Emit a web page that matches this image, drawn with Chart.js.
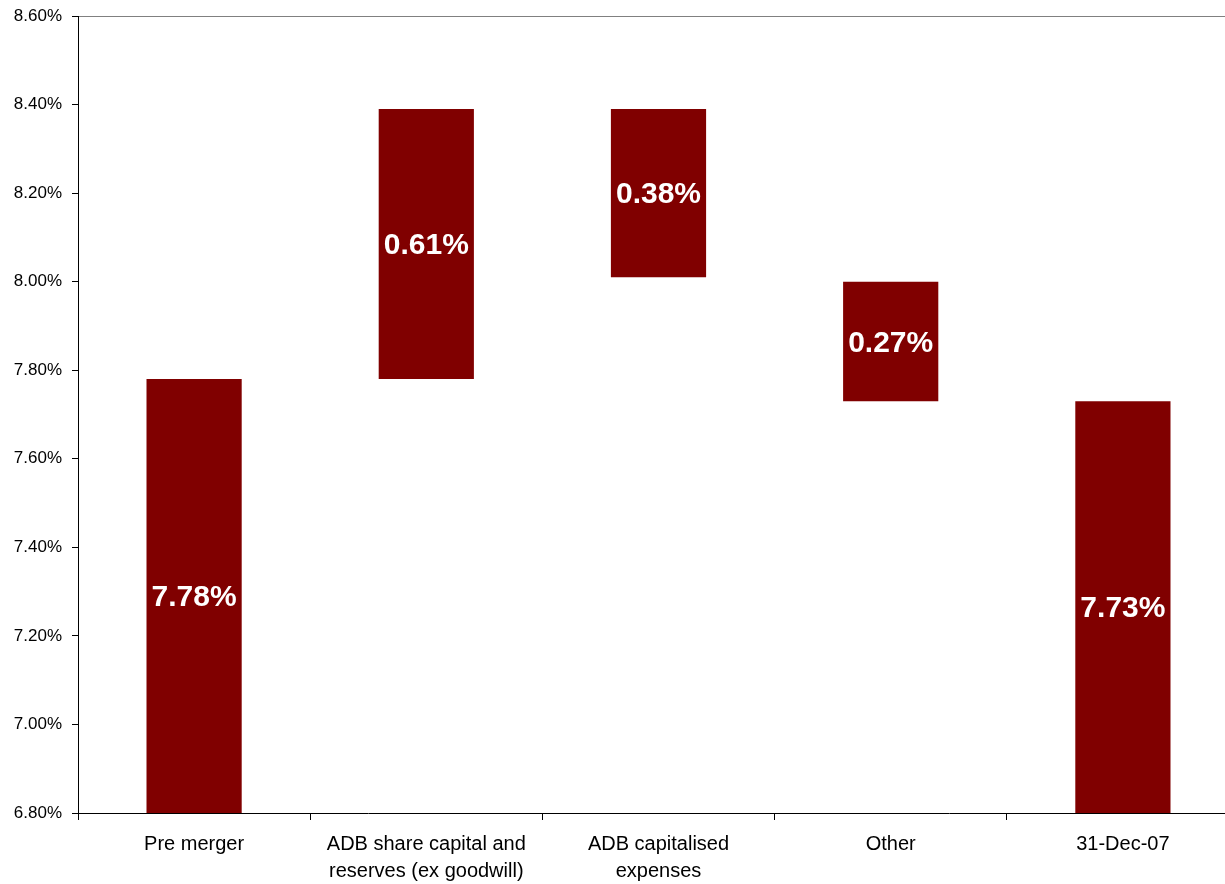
<!DOCTYPE html>
<html>
<head>
<meta charset="utf-8">
<title>Capital ratio bridge</title>
<script src="https://cdn.jsdelivr.net/npm/chart.js@4.4.1/dist/chart.umd.min.js"></script>
<style>
    html, body { margin: 0; padding: 0; background: #ffffff; overflow: hidden; }
    #wrap { width: 1239px; height: 884px; }
</style>
</head>
<body>
<div id="wrap"><canvas id="bridge" width="1239" height="884"></canvas></div>
<script>
// Categorías del puente (multilínea para el eje X)
const categories = [
    'Pre merger',
    ['ADB share capital and', 'reserves (ex goodwill)'],
    ['ADB capitalised', 'expenses'],
    'Other',
    '31-Dec-07'
];

// Extremos de cada barra flotante (%)
const barLow  = [6.80, 7.78, 8.01, 7.73, 6.80];
const barHigh = [7.78, 8.39, 8.39, 8.00, 7.73];

// Barras de total (etiqueta = valor final) vs. barras de variación (etiqueta = diferencia)
const isTotal = [true, false, false, false, true];

const yTicks = { min: 6.80, max: 8.60, step: 0.20 };

const BAR_COLOR = '#800000';
const FONT = '"Liberation Sans", Arial, sans-serif';

// Etiquetas blancas centradas dentro de cada barra
const barLabels = {
    id: 'barLabels',
    afterDatasetsDraw(chart) {
        const { ctx } = chart;
        const meta = chart.getDatasetMeta(0);
        ctx.save();
        ctx.fillStyle = '#ffffff';
        ctx.font = `bold 30px ${FONT}`;
        ctx.textAlign = 'center';
        ctx.textBaseline = 'middle';
        meta.data.forEach((bar, i) => {
            const value = isTotal[i] ? barHigh[i] : barHigh[i] - barLow[i];
            const midY = (bar.y + bar.base) / 2;
            ctx.fillText(value.toFixed(2) + '%', bar.x, midY + 2);
        });
        ctx.restore();
    }
};

new Chart(document.getElementById('bridge'), {
    type: 'bar',
    data: {
        labels: categories,
        datasets: [{
            data: barLow.map((low, i) => [low, barHigh[i]]),
            backgroundColor: BAR_COLOR,
            borderWidth: 0,
            barPercentage: 0.41,
            categoryPercentage: 1.0
        }]
    },
    options: {
        responsive: false,
        animation: false,
        layout: { padding: { top: 16, right: 0, bottom: 0, left: 0 } },
        plugins: {
            legend: { display: false },
            tooltip: { enabled: false }
        },
        scales: {
            x: {
                grid: {
                    offset: true,
                    drawOnChartArea: false,
                    color: '#000000',
                    tickLength: 7
                },
                border: { color: '#000000', width: 1 },
                ticks: {
                    color: '#000000',
                    font: { family: FONT, size: 20, lineHeight: '27px' },
                    padding: 11,
                    maxRotation: 0,
                    autoSkip: false
                },
                afterFit: (scale) => {
                    scale.height = 71;
                    scale.paddingLeft = 0;
                    scale.paddingRight = 0;
                }
            },
            y: {
                min: yTicks.min,
                max: yTicks.max,
                grid: {
                    drawOnChartArea: true,
                    color: (c) => (c.tick && Math.abs(c.tick.value - yTicks.max) < 1e-6) ? '#808080' : 'rgba(0,0,0,0)',
                    tickColor: '#000000',
                    tickLength: 6
                },
                border: { color: '#000000', width: 1 },
                ticks: {
                    stepSize: yTicks.step,
                    color: '#000000',
                    font: { family: FONT, size: 17 },
                    padding: 10,
                    callback: (value) => Number(value).toFixed(2) + '%'
                },
                afterFit: (scale) => {
                    scale.width = 78;
                    scale.paddingTop = 0;
                    scale.paddingBottom = 0;
                }
            }
        }
    },
    plugins: [barLabels]
});
</script>
</body>
</html>
